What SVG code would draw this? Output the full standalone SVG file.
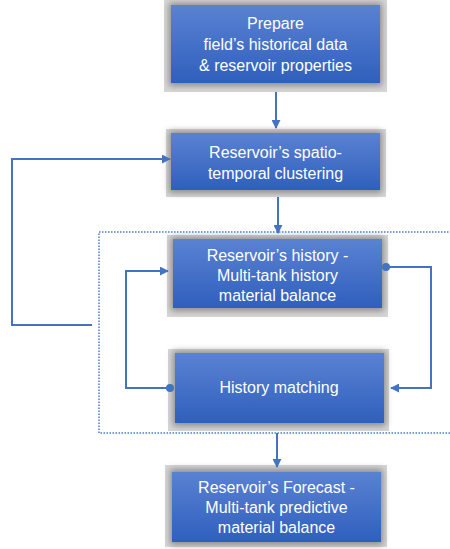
<svg xmlns="http://www.w3.org/2000/svg" width="450" height="549" viewBox="0 0 450 549">
<defs>
<linearGradient id="blue" x1="0" y1="0" x2="0" y2="1">
<stop offset="0" stop-color="#5a82d2"/>
<stop offset="1" stop-color="#2f5fbd"/>
</linearGradient>
<filter id="blur" x="-10%" y="-20%" width="120%" height="140%"><feGaussianBlur stdDeviation="3"/></filter>
<marker id="arr" viewBox="0 0 10 10" refX="9" refY="5" markerWidth="4.5" markerHeight="4.5" orient="auto" markerUnits="strokeWidth">
<path d="M0,0 L10,5 L0,10 z" fill="#4472c4"/>
</marker>
<marker id="dot" viewBox="0 0 10 10" refX="5" refY="5" markerWidth="4" markerHeight="4" markerUnits="strokeWidth">
<circle cx="5" cy="5" r="5" fill="#4472c4"/>
</marker>
</defs>
<style>
.frame{fill:#d6d6d6}
.shade{fill:#8c8c8c;filter:url(#blur)}
.box{fill:url(#blue)}
text{font-family:"Liberation Sans",Arial,sans-serif;font-size:16px;fill:#ffffff;text-anchor:middle}
.conn{fill:none;stroke:#4472c4;stroke-width:2}
.dotted{fill:none;stroke:#4f7bc8;stroke-width:1.5;stroke-dasharray:1.5 1.5}
</style>
<g id="node1">
<rect class="frame" x="164" y="0" width="223" height="92"/>
<rect class="shade" x="169" y="3" width="213" height="83"/>
<rect class="box" x="171" y="5" width="209" height="78"/>
<text x="275.5" y="29">Prepare</text>
<text x="275.5" y="50">field’s historical data</text>
<text x="275.5" y="71">&amp; reservoir properties</text>
</g>
<g id="node2">
<rect class="frame" x="166" y="129" width="220" height="68"/>
<rect class="shade" x="169" y="131" width="213" height="62"/>
<rect class="box" x="171" y="133" width="209" height="57"/>
<text x="275.5" y="158">Reservoir’s spatio-</text>
<text x="275.5" y="179">temporal clustering</text>
</g>
<g id="node3">
<rect class="frame" x="167" y="235" width="221" height="82"/>
<rect class="shade" x="171" y="237" width="213" height="74"/>
<rect class="box" x="173" y="239" width="209" height="69"/>
<text x="277.5" y="261">Reservoir’s history -</text>
<text x="277.5" y="281">Multi-tank history</text>
<text x="277.5" y="301">material balance</text>
</g>
<g id="node4">
<rect class="frame" x="168" y="349" width="221" height="82"/>
<rect class="shade" x="173" y="351" width="213" height="75"/>
<rect class="box" x="175" y="353" width="209" height="70"/>
<text x="279" y="393">History matching</text>
</g>
<g id="node5">
<rect class="frame" x="165" y="465" width="222" height="82"/>
<rect class="shade" x="170" y="469" width="213" height="76"/>
<rect class="box" x="172" y="472" width="209" height="70"/>
<text x="276.5" y="493">Reservoir’s Forecast -</text>
<text x="276.5" y="513">Multi-tank predictive</text>
<text x="276.5" y="533">material balance</text>
</g>
<g id="connectors">
<rect class="dotted" x="99" y="232" width="360" height="201"/>
<line class="conn" x1="276" y1="92" x2="276" y2="128" marker-end="url(#arr)"/>
<polyline class="conn" points="92,325 12,325 12,159 170,159" marker-end="url(#arr)"/>
<line class="conn" x1="278" y1="197" x2="278" y2="233" marker-end="url(#arr)"/>
<polyline class="conn" points="170,388 126,388 126,271 168,271" marker-start="url(#dot)" marker-end="url(#arr)"/>
<polyline class="conn" points="386,267 431,267 431,388 391,388" marker-start="url(#dot)" marker-end="url(#arr)"/>
<line class="conn" x1="277" y1="433" x2="277" y2="467" marker-end="url(#arr)"/>
</g>
</svg>
